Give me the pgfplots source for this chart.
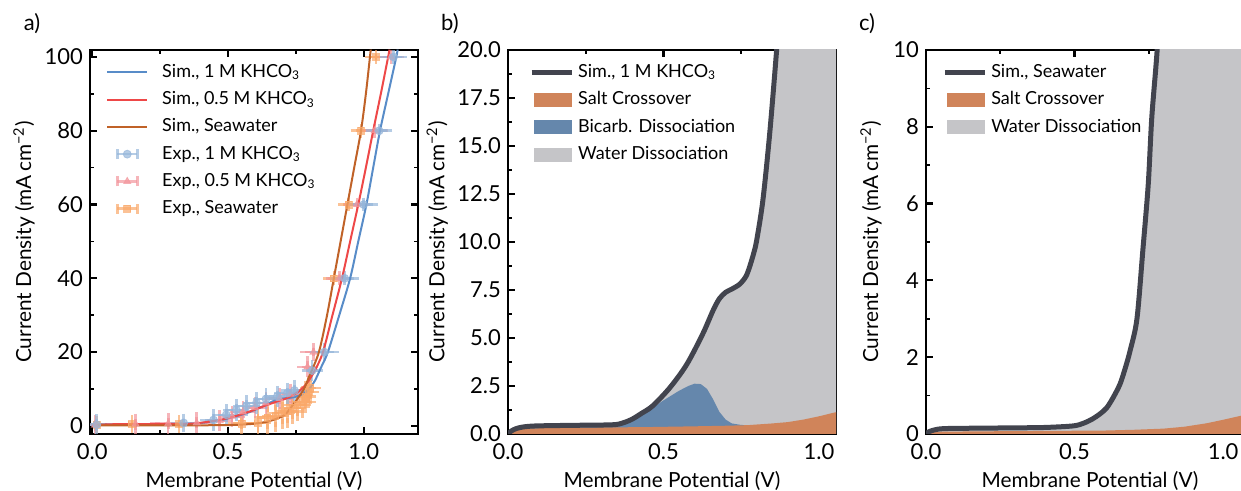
\documentclass[border=0pt]{standalone}
\usepackage{fontspec}
\setmainfont{Lato}
\usepackage{pgfplots}
\usepackage{pgfplotstable}
\pgfplotsset{compat=1.18}

\definecolor{simA}{RGB}{88,140,200}
\definecolor{simB}{RGB}{238,72,72}
\definecolor{simC}{RGB}{192,98,40}
\definecolor{expA}{RGB}{150,182,218}
\definecolor{expB}{RGB}{242,150,156}
\definecolor{expC}{RGB}{250,168,105}
\definecolor{darkline}{RGB}{66,68,78}
\definecolor{salt}{RGB}{208,132,90}
\definecolor{bicarb}{RGB}{101,135,172}
\definecolor{water}{RGB}{197,197,200}

\pgfplotstableread{
x y ex ey
0.017 0.3 0.02 1.5
0.337 0.8 0.03 1.2
0.447 1.6 0.03 1.5
0.494 3.0 0.03 1.5
0.531 4.3 0.03 1.5
0.568 5.4 0.03 1.5
0.605 6.2 0.03 1.5
0.640 7.3 0.03 1.5
0.682 8.0 0.03 1.5
0.719 8.9 0.03 1.5
0.745 9.6 0.03 1.5
0.810 15.0 0.02 1.5
0.855 20.0 0.035 1.0
0.930 40.0 0.035 0.5
1.000 60.0 0.035 0.5
1.057 80.0 0.03 0.5
1.110 100.0 0.03 0.5
}\expA

\pgfplotstableread{
x y ex ey
0.010 0.2 0.02 1.5
0.160 0.5 0.05 1.5
0.280 0.6 0.05 1.5
0.385 0.8 0.04 1.5
0.470 1.4 0.03 1.5
0.515 2.6 0.03 1.5
0.555 3.8 0.03 1.5
0.600 5.0 0.03 1.5
0.640 6.2 0.03 1.5
0.690 7.4 0.03 1.5
0.730 8.6 0.03 1.5
0.793 16.0 0.02 1.5
0.815 20.0 0.03 1.0
0.910 40.0 0.03 0.5
0.975 60.0 0.03 0.5
1.040 80.0 0.03 0.5
1.100 100.0 0.03 0.5
}\expB

\pgfplotstableread{
x y ex ey
0.017 0.3 0.02 1.0
0.146 0.5 0.04 1.0
0.320 0.5 0.03 1.0
0.550 0.6 0.03 1.5
0.610 0.8 0.03 2.5
0.645 2.2 0.03 3.0
0.675 2.7 0.03 3.0
0.700 3.5 0.03 3.0
0.720 3.9 0.03 3.0
0.738 4.9 0.03 3.0
0.756 5.7 0.03 3.0
0.775 6.5 0.03 3.0
0.786 7.9 0.02 3.0
0.797 9.2 0.02 3.0
0.804 10.3 0.02 3.0
0.890 40 0.02 0.5
0.945 60 0.02 0.5
0.990 80 0.02 0.5
1.045 100 0.02 0.5
}\expC

\pgfplotsset{
  panel/.style={
    scale only axis, width=164pt, height=192pt,
    axis line style={line width=1.4pt},
    tick align=inside,
    major tick length=3.5pt, minor tick length=2pt,
    every major tick/.append style={line width=1.1pt, black},
    every minor tick/.append style={line width=0.8pt, black},
    minor x tick num=1, minor y tick num=1,
    tick label style={font=\fontsize{11}{13}\selectfont},
    xticklabel style={yshift=-1.2pt},
    label style={font=\fontsize{10.4}{12.5}\selectfont},
    /pgf/number format/assume math mode=true,
    xtick={0,0.5,1}, xticklabels={0.0,0.5,1.0},
    xlabel={Membrane Potential (V)},
    ylabel={Current Density (mA\,cm\textsuperscript{−2})},
    xlabel style={at={(axis description cs:0.5,-0.122)}, anchor=center},
    legend style={draw=none, fill=none, font=\fontsize{9}{11}\selectfont, anchor=north west, row sep=1.6pt},
    legend cell align=left,
  },
  linelegend/.style={legend image code/.code={\draw[##1] (0pt,0pt) -- (20pt,0pt);}},
  linelegendA/.style={legend image code/.code={\draw[##1] (0pt,0pt) -- (20pt,0pt); \path (25pt,0pt);}},
  arealegend/.style={legend image code/.code={\fill[##1] (1.5pt,-3.25pt) rectangle (20pt,3.25pt);}},
  errlegend/.style={legend image code/.code={%
    \draw[##1, line width=1.3pt] (5pt,0pt) -- (15pt,0pt);
    \draw[##1, line width=1.3pt] (5pt,-2.5pt) -- (5pt,2.5pt) (15pt,-2.5pt) -- (15pt,2.5pt);
    \draw[##1, only marks] plot coordinates {(10pt,0pt)};}},
  expstyle/.style={only marks, color=#1, mark options={fill=#1, draw=#1}, opacity=0.7,
    error bars/.cd, x dir=both, x explicit, y dir=both, y explicit,
    error bar style={line width=1.3pt, #1},
    error mark options={line width=1.3pt, mark size=2.5pt, #1},
    /pgfplots/.cd},
}

\begin{document}
\begin{tikzpicture}
\useasboundingbox (0,0) rectangle (620.5pt,245.5pt);
\node[font=\fontsize{11}{13}\selectfont] at (16pt,233.5pt) {a)};
\node[font=\fontsize{11}{13}\selectfont] at (225pt,233.5pt) {b)};
\node[font=\fontsize{11}{13}\selectfont] at (433.5pt,233.5pt) {c)};

% ---------------- panel a
\begin{axis}[panel, at={(45pt,28.5pt)}, anchor=south west,
  xmin=-0.008, xmax=1.2, ymin=-2.2, ymax=101.9,
  ytick={0,20,40,60,80,100},
  ylabel style={at={(axis description cs:-0.201,0.5)}, anchor=center},
  legend style={at={(axis description cs:0.03,0.985)}},
]
\addlegendimage{linelegendA, simA, line width=1pt}
\addlegendentry{Sim., 1 M KHCO\textsubscript{3}}
\addlegendimage{linelegendA, simB, line width=1pt}
\addlegendentry{Sim., 0.5 M KHCO\textsubscript{3}}
\addlegendimage{linelegendA, simC, line width=1pt}
\addlegendentry{Sim., Seawater}
\addlegendimage{errlegend, expA, opacity=0.7, mark=*, mark size=2pt}
\addlegendentry{Exp., 1 M KHCO\textsubscript{3}}
\addlegendimage{errlegend, expB, opacity=0.7, mark=triangle*, mark size=2pt}
\addlegendentry{Exp., 0.5 M KHCO\textsubscript{3}}
\addlegendimage{errlegend, expC, opacity=0.7, mark=square*, mark size=1.7pt}
\addlegendentry{Exp., Seawater}
\addplot[forget plot, mark=square*, mark size=1.7pt, expstyle=expC] table[x=x,y=y,x error=ex,y error=ey]{\expC};
\addplot[forget plot, mark=triangle*, mark size=2pt, expstyle=expB] table[x=x,y=y,x error=ex,y error=ey]{\expB};
\addplot[forget plot, mark=*, mark size=2pt, expstyle=expA] table[x=x,y=y,x error=ex,y error=ey]{\expA};
\addplot[forget plot, simA, line width=1pt, smooth] coordinates {
(0,0) (0.03,0.3) (0.08,0.43) (0.2,0.47) (0.35,0.5) (0.4,0.78) (0.465,1.46) (0.52,2.4)
(0.574,3.6) (0.626,5.2) (0.674,6.95) (0.703,7.4) (0.745,7.8) (0.777,8.7) (0.80,10.1)
(0.82,12.2) (0.842,15.7) (0.868,20) (0.91,30) (0.95,40) (0.98,50) (1.01,60) (1.035,70)
(1.06,80) (1.09,90) (1.12,100) (1.125,102)};
\addplot[forget plot, simB, line width=1pt, smooth] coordinates {
(0,0) (0.03,0.3) (0.08,0.45) (0.2,0.5) (0.35,0.55) (0.4,0.85) (0.47,1.6) (0.53,2.7)
(0.58,3.9) (0.63,5.3) (0.68,6.6) (0.72,7.6) (0.76,9.3) (0.79,11.5) (0.82,15) (0.85,20)
(0.885,30) (0.92,40) (0.95,50) (0.98,60) (1.008,70) (1.035,80) (1.063,90) (1.09,100) (1.095,102)};
\addplot[forget plot, simC, line width=1pt, smooth] coordinates {
(0,0) (0.047,0.13) (0.2,0.15) (0.38,0.16) (0.495,0.21) (0.56,0.39) (0.608,0.68)
(0.653,1.3) (0.687,2.17) (0.71,3.0) (0.73,4.8) (0.748,6.5) (0.765,8.3) (0.78,10)
(0.80,13.5) (0.835,20) (0.865,30) (0.89,40) (0.915,50) (0.94,60) (0.965,70) (0.99,80)
(1.008,90) (1.023,100) (1.026,102)};
\end{axis}

% ---------------- panel b
\begin{axis}[panel, at={(254pt,28.5pt)}, anchor=south west,
  xmin=0, xmax=1.055, ymin=0, ymax=20,
  ytick={0,2.5,5,7.5,10,12.5,15,17.5,20},
  yticklabels={0.0,2.5,5.0,7.5,10.0,12.5,15.0,17.5,20.0},
  ylabel style={at={(axis description cs:-0.216,0.5)}, anchor=center},
  legend style={at={(axis description cs:0.045,0.985)}},
]
\addlegendimage{linelegend, darkline, line width=2.5pt}
\addlegendentry{Sim., 1 M KHCO\textsubscript{3}}
\addlegendimage{arealegend, salt}
\addlegendentry{Salt Crossover}
\addlegendimage{arealegend, bicarb}
\addlegendentry{Bicarb. Dissociation}
\addlegendimage{arealegend, water}
\addlegendentry{Water Dissociation}
\addplot[forget plot, fill=water, draw=none] coordinates {
(0,0) (0.01,0.15) (0.026,0.28) (0.05,0.37) (0.09,0.42) (0.2,0.45) (0.335,0.48) (0.37,0.58)
(0.40,0.78) (0.43,1.08) (0.465,1.46) (0.52,2.4) (0.574,3.6) (0.626,5.2) (0.66,6.45) (0.68,7.05)
(0.70,7.38) (0.72,7.55) (0.745,7.8) (0.765,8.2) (0.777,8.7) (0.79,9.4) (0.80,10.1)
(0.82,12.2) (0.842,15.7) (0.864,20) (0.875,23) (1.06,23) (1.06,0)} -- cycle;
\addplot[forget plot, fill=bicarb, draw=none] coordinates {
(0,0) (0.02,0.3) (0.05,0.4) (0.1,0.44) (0.3,0.46) (0.35,0.5) (0.4,0.75) (0.45,1.2)
(0.5,1.75) (0.55,2.25) (0.58,2.5) (0.6,2.62) (0.62,2.6) (0.64,2.35) (0.66,1.8) (0.68,1.15)
(0.7,0.75) (0.72,0.55) (0.75,0.47) (0.78,0.46) (0.78,0)} -- cycle;
\addplot[forget plot, fill=salt, draw=none] coordinates {
(0,0) (0.02,0.18) (0.05,0.28) (0.15,0.32) (0.3,0.34) (0.45,0.36) (0.6,0.4) (0.7,0.43)
(0.77,0.46) (0.85,0.55) (0.9,0.62) (0.95,0.75) (1.0,0.92) (1.045,1.1) (1.06,1.15) (1.06,0)} -- cycle;
\addplot[forget plot, darkline, line width=2.5pt, smooth] coordinates {
(0,0) (0.01,0.15) (0.026,0.28) (0.05,0.37) (0.09,0.42) (0.2,0.45) (0.335,0.48) (0.37,0.58)
(0.40,0.78) (0.43,1.08) (0.465,1.46) (0.52,2.4) (0.574,3.6) (0.626,5.2) (0.66,6.45) (0.68,7.05)
(0.70,7.38) (0.72,7.55) (0.745,7.8) (0.765,8.2) (0.777,8.7) (0.79,9.4) (0.80,10.1)
(0.82,12.2) (0.842,15.7) (0.864,20) (0.872,22)};
\end{axis}

% ---------------- panel c
\begin{axis}[panel, at={(463pt,28.5pt)}, anchor=south west,
  xmin=0, xmax=1.104, ymin=0, ymax=10,
  ytick={0,2,4,6,8,10},
  ylabel style={at={(axis description cs:-0.168,0.5)}, anchor=center},
  legend style={at={(axis description cs:0.03,0.985)}},
]
\addlegendimage{linelegend, darkline, line width=2.5pt}
\addlegendentry{Sim., Seawater}
\addlegendimage{arealegend, salt}
\addlegendentry{Salt Crossover}
\addlegendimage{arealegend, water}
\addlegendentry{Water Dissociation}
\addplot[forget plot, fill=water, draw=none] coordinates {
(0,0) (0.01,0.06) (0.03,0.11) (0.06,0.14) (0.15,0.15) (0.3,0.16) (0.4,0.17) (0.495,0.21)
(0.53,0.28) (0.56,0.39) (0.585,0.52) (0.608,0.68) (0.63,0.95) (0.653,1.3) (0.67,1.7)
(0.687,2.17) (0.71,3.0) (0.73,4.8) (0.748,6.5) (0.76,8.25) (0.778,10) (0.79,11.8)
(0.80,13) (1.11,13) (1.11,0)} -- cycle;
\addplot[forget plot, fill=salt, draw=none] coordinates {
(0,0) (0.02,0.04) (0.05,0.06) (0.2,0.07) (0.4,0.08) (0.6,0.09) (0.7,0.11) (0.8,0.14)
(0.87,0.19) (0.945,0.28) (1.0,0.37) (1.057,0.47) (1.11,0.58) (1.11,0)} -- cycle;
\addplot[forget plot, darkline, line width=2.5pt, smooth] coordinates {
(0,0) (0.01,0.06) (0.03,0.11) (0.06,0.14) (0.15,0.15) (0.3,0.16) (0.4,0.17) (0.495,0.21)
(0.53,0.28) (0.56,0.39) (0.585,0.52) (0.608,0.68) (0.63,0.95) (0.653,1.3) (0.67,1.7)
(0.687,2.17) (0.71,3.0) (0.73,4.8) (0.748,6.5) (0.76,8.25) (0.778,10) (0.79,11.8)};
\end{axis}
\end{tikzpicture}
\end{document}
